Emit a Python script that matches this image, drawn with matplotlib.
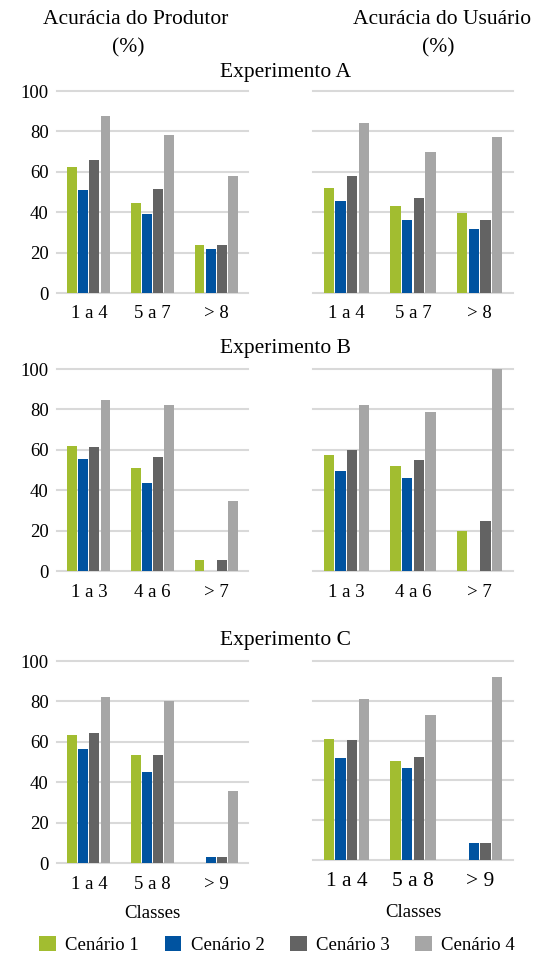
import matplotlib
matplotlib.use('Agg')
import matplotlib.pyplot as plt
from matplotlib.patches import Patch
import numpy as np

plt.rcParams['font.family'] = ['Liberation Serif', 'DejaVu Serif']

cenarios = ['Cenário 1', 'Cenário 2', 'Cenário 3', 'Cenário 4']
cores = ['#A2BD30', '#0053A0', '#636363', '#A6A6A6']

# Experimento A
classes_a = ['1 a 4', '5 a 7', '> 8']
prod_a = [[62.6, 44.8, 23.6],
          [50.9, 38.9, 21.7],
          [65.7, 51.4, 23.6],
          [87.6, 78.1, 57.8]]
usu_a = [[51.9, 43.0, 39.4],
         [45.5, 35.9, 31.8],
         [57.8, 47.1, 35.9],
         [84.0, 69.7, 77.3]]

# Experimento B
classes_b = ['1 a 3', '4 a 6', '> 7']
prod_b = [[62.0, 50.8, 5.6],
          [55.6, 43.7, 0.0],
          [61.4, 56.6, 5.6],
          [84.5, 82.2, 34.7]]
usu_b = [[57.3, 52.0, 20.0],
         [49.5, 46.0, 0.0],
         [59.7, 55.0, 24.6],
         [82.2, 78.7, 100.0]]

# Experimento C
classes_c = ['1 a 4', '5 a 8', '> 9']
prod_c = [[63.4, 53.3, 0.0],
          [56.3, 44.9, 2.8],
          [64.5, 53.3, 2.8],
          [82.3, 80.0, 35.5]]
usu_c = [[60.9, 50.0, 0.0],
         [51.3, 46.0, 8.6],
         [60.4, 52.0, 8.6],
         [80.9, 73.0, 91.8]]

W, H = 533, 955
fig = plt.figure(figsize=(W / 100, H / 100), dpi=100)


def painel(rect, classes, valores, yticks=True, xsize=13.5, xlabel=None, labelpad=7):
    ax = fig.add_axes(rect)
    x = np.arange(len(classes))
    largura = 0.155
    passo = 0.175
    for i, serie in enumerate(valores):
        ax.bar(x + (i - 1.5) * passo, serie, largura, color=cores[i], zorder=3, linewidth=0)
    ax.set_xlim(-0.5, len(classes) - 0.5)
    ax.set_ylim(0, 100)
    ax.set_yticks([0, 20, 40, 60, 80, 100])
    ax.yaxis.grid(True, color='#D9D9D9', linewidth=1.5, zorder=0)
    for line in ax.get_ygridlines():
        line.set_clip_on(False)
    ax.set_axisbelow(True)
    for s in ax.spines.values():
        s.set_visible(False)
    ax.tick_params(length=0)
    ax.set_xticks(x)
    ax.set_xticklabels(classes, fontsize=xsize)
    ax.tick_params(axis='x', pad=9)
    if yticks:
        ax.tick_params(axis='y', labelsize=13.5, pad=6)
    else:
        ax.set_yticklabels([])
    if xlabel:
        ax.set_xlabel(xlabel, fontsize=13.5, labelpad=labelpad)
    return ax


def ret(x0, x1, ytop, ybot):
    return [x0 / W, 1 - ybot / H, (x1 - x0) / W, (ybot - ytop) / H]


painel(ret(57, 248, 91, 293), classes_a, prod_a)
painel(ret(313, 513, 91, 293), classes_a, usu_a, yticks=False)
painel(ret(57, 248, 369, 571), classes_b, prod_b)
painel(ret(313, 513, 369, 571), classes_b, usu_b, yticks=False)
painel(ret(57, 248, 661, 863), classes_c, prod_c, xlabel='Classes', labelpad=9)
painel(ret(313, 513, 661, 860), classes_c, usu_c, yticks=False, xsize=15.5, xlabel='Classes', labelpad=9)

fig.text(136 / W, 1 - 20 / H, 'Acurácia do Produtor', ha='center', va='center', fontsize=15.5)
fig.text(128 / W, 1 - 48 / H, '(%)', ha='center', va='center', fontsize=15.5)
fig.text(442 / W, 1 - 20 / H, 'Acurácia do Usuário', ha='center', va='center', fontsize=15.5)
fig.text(438 / W, 1 - 48 / H, '(%)', ha='center', va='center', fontsize=15.5)
for nome, y in [('Experimento A', 72), ('Experimento B', 348), ('Experimento C', 640)]:
    fig.text(285 / W, 1 - y / H, nome, ha='center', va='center', fontsize=15.5)

handles = [Patch(facecolor=c, edgecolor='none') for c in cores]
fig.legend(handles, cenarios, loc='center', bbox_to_anchor=(0.52, 1 - 945 / H), ncol=4,
           frameon=False, fontsize=13.5, handlelength=0.9, handleheight=0.9,
           handletextpad=0.5, columnspacing=1.35)

fig.savefig('out.png', dpi=100)
